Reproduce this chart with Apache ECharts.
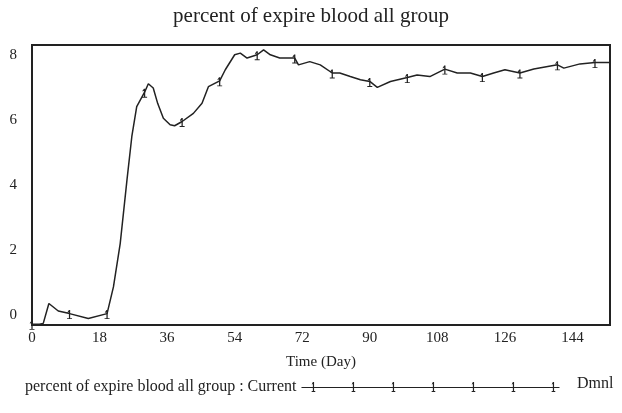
<!DOCTYPE html>
<html>
<head>
<meta charset="utf-8">
<script src="https://cdn.jsdelivr.net/npm/echarts@6/dist/echarts.min.js"></script>
<style>
  html, body { margin: 0; padding: 0; background: #fff; }
  #chart { width: 622px; height: 413px; }
</style>
</head>
<body>
<div id="chart"></div>
<script>
// time axis (days) and values
const days = [0, 2, 3, 4.5, 7, 10, 15, 20, 21.7, 23.5, 25.3, 26.6, 27.9, 30, 31, 32.3, 33.5, 35, 36.8, 38,
  40, 43, 45.3, 47, 50, 51.5, 54, 55.5, 57.3, 60, 61.7, 63.5, 66, 70, 71, 74, 76.8, 80, 82, 84.8,
  87.5, 90, 92, 95.5, 100, 102.6, 106, 110, 113.3, 116.8, 120, 123, 126, 130, 133.7, 140, 141.7, 146, 150, 154];
const values = [-0.28, -0.28, -0.25, 0.36, 0.13, 0.05, -0.1, 0.05, 0.87, 2.2, 4.15, 5.49, 6.41, 6.85, 7.11, 6.98, 6.5, 6.05, 5.85, 5.82,
  5.95, 6.2, 6.51, 7.02, 7.2, 7.54, 8.0, 8.05, 7.9, 8.0, 8.15, 8.0, 7.9, 7.9, 7.69, 7.79, 7.69, 7.44, 7.44, 7.33,
  7.23, 7.18, 7.0, 7.18, 7.3, 7.38, 7.33, 7.56, 7.44, 7.44, 7.33, 7.44, 7.54, 7.44, 7.56, 7.69, 7.59, 7.72, 7.76, 7.76];
const xTicks = [0, 18, 36, 54, 72, 90, 108, 126, 144];
const yTicks = [0, 2, 4, 6, 8];
const seriesName = 'percent of expire blood all group';
const markerEvery = 10; // vensim puts a "1" every 10 days

const ink = '#222';
const font = 'Liberation Serif';

// the little "1" marker
const oneGlyph = 'path://M1.5,0 L2.5,0 L2.5,9 L4,9 L4,10 L0,10 L0,9 L1.5,9 L1.5,2.2 L0.3,3.2 L0.3,2.3 Z';

// legend sample: a line with seven "1"s on it
function legendIcon(w) {
  let p = 'path://M0,5 L' + w + ',5 L' + w + ',6 L0,6 Z';
  for (let i = 0; i < 7; i++) {
    const c = 12 + i * 40;
    p += ' M' + (c - 0.6) + ',0 L' + (c + 0.6) + ',0 L' + (c + 0.6) + ',9 L' + (c + 1.8) + ',9 L' + (c + 1.8) + ',10 L' +
      (c - 1.8) + ',10 L' + (c - 1.8) + ',9 L' + (c - 0.6) + ',9 L' + (c - 0.6) + ',1.8 L' + (c - 1.6) + ',2.8 L' + (c - 1.6) + ',2 Z';
  }
  return p;
}

const chart = echarts.init(document.getElementById('chart'));
chart.setOption({
  animation: false,
  backgroundColor: '#fff',
  title: {
    text: seriesName,
    left: 'center',
    top: 1,
    textStyle: { fontFamily: font, fontSize: 21, fontWeight: 'normal', color: ink }
  },
  grid: {
    left: 32, right: 12, top: 45, bottom: 88,
    show: true, borderColor: ink, borderWidth: 2, backgroundColor: 'transparent'
  },
  legend: {
    left: 20,
    top: 374,
    align: 'right',
    itemWidth: 258,
    itemHeight: 10,
    data: [{ name: seriesName, icon: legendIcon(258) }],
    formatter: name => name + ' : Current',
    textStyle: { fontFamily: font, fontSize: 16, color: ink }
  },
  graphic: [{
    type: 'text',
    left: 577,
    top: 376,
    style: { text: 'Dmnl', fontFamily: font, fontSize: 16, fill: ink }
  }],
  xAxis: {
    type: 'value',
    min: 0,
    max: 154,
    name: 'Time (Day)',
    nameLocation: 'middle',
    nameGap: 30,
    nameTextStyle: { fontFamily: font, fontSize: 15, color: ink },
    axisLine: { show: false },
    axisTick: { show: false },
    splitLine: { show: false },
    axisLabel: { customValues: xTicks, fontFamily: font, fontSize: 15, color: ink, margin: 6 }
  },
  yAxis: {
    type: 'value',
    min: -0.3,
    max: 8.3,
    axisLine: { show: false },
    axisTick: { show: false },
    splitLine: { show: false },
    axisLabel: { customValues: yTicks, fontFamily: font, fontSize: 15, color: ink, margin: 15 }
  },
  series: [{
    name: seriesName,
    type: 'line',
    data: days.map((d, i) => [d, values[i]]),
    showSymbol: true,
    showAllSymbol: true,
    symbol: v => (v[0] % markerEvery === 0 ? oneGlyph : 'none'),
    symbolSize: [5, 9],
    symbolOffset: [0, 1],
    lineStyle: { color: ink, width: 1.5 },
    itemStyle: { color: ink, borderWidth: 0 },
    clip: true
  }]
});
</script>
</body>
</html>
